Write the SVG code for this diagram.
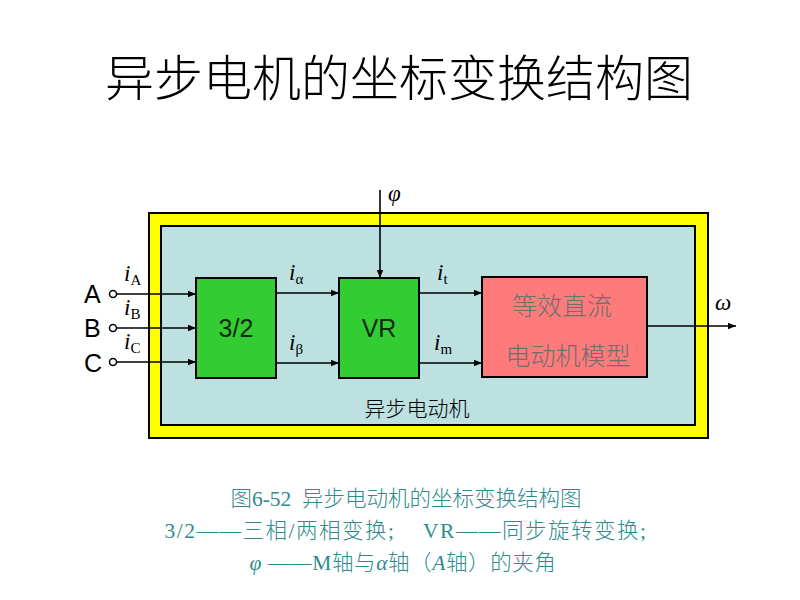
<svg xmlns="http://www.w3.org/2000/svg" width="800" height="600" viewBox="0 0 800 600">
<defs>
<marker id="ah" viewBox="0 0 10 10" refX="10" refY="5" markerWidth="8" markerHeight="8" markerUnits="userSpaceOnUse" orient="auto">
<path d="M0,1 L10,5 L0,9 Z" fill="#000"/>
</marker>
<style>
.ln{stroke:#000;stroke-width:1.6;fill:none}
.blk{stroke:#000;stroke-width:2}
.iv{font-family:"Liberation Serif",serif;font-style:italic;font-size:23px;fill:#000}
.sub{font-family:"Liberation Serif",serif;font-style:normal;font-size:15px}
.abc{font-family:"Liberation Sans",sans-serif;font-size:25px;fill:#000}
.bt{font-family:"Liberation Sans","Noto Sans",sans-serif;font-size:25px;fill:#0d2a0d;text-anchor:middle}
.cjk{font-family:"Noto Sans CJK SC",sans-serif}
.cap{font-family:"Liberation Serif","Noto Sans CJK SC",serif;font-size:21.5px;fill:#2e8b8b;font-weight:300}
</style>
</defs>
<rect width="800" height="600" fill="#fff"/>
<text x="399" y="96" class="cjk" font-size="49" font-weight="300" text-anchor="middle" fill="#000">异步电机的坐标变换结构图</text>

<g id="motor">
<rect x="149" y="213" width="559" height="225" fill="#ffff00" stroke="#000" stroke-width="2"/>
<rect x="161" y="226" width="534" height="199" fill="#bde0e1" stroke="#000" stroke-width="2"/>
<text x="417" y="416" class="cjk" font-size="21" font-weight="300" text-anchor="middle" fill="#000">异步电动机</text>
</g>

<g id="inputs">
<text x="84" y="303" class="abc">A</text>
<text x="84" y="337" class="abc">B</text>
<text x="84" y="372" class="abc">C</text>
<circle cx="113" cy="294" r="3.5" fill="#fff" stroke="#000" stroke-width="1.5"/>
<circle cx="113" cy="328" r="3.5" fill="#fff" stroke="#000" stroke-width="1.5"/>
<circle cx="113" cy="362" r="3.5" fill="#fff" stroke="#000" stroke-width="1.5"/>
<text x="124" y="281" class="iv">i<tspan class="sub" dy="4">A</tspan></text>
<text x="124" y="315" class="iv">i<tspan class="sub" dy="4">B</tspan></text>
<text x="124" y="349" class="iv">i<tspan class="sub" dy="4">C</tspan></text>
</g>

<g id="b32">
<rect x="196" y="278" width="80" height="100" fill="#33cc33" class="blk"/>
<text x="236" y="337" class="bt">3/2</text>
</g>
<g id="vr">
<rect x="339" y="278" width="80" height="100" fill="#33cc33" class="blk"/>
<text x="379" y="337" class="bt">VR</text>
</g>
<g id="dc">
<rect x="482" y="277" width="165" height="100" fill="#ff7b7b" class="blk"/>
<text x="562" y="315" class="cjk" font-size="25" font-weight="300" text-anchor="middle" fill="#6e6e6e">等效直流</text>
<text x="568" y="365" class="cjk" font-size="25" font-weight="300" text-anchor="middle" fill="#6e6e6e">电动机模型</text>
</g>

<g id="connectors">
<line x1="117" y1="294" x2="196" y2="294" class="ln" marker-end="url(#ah)"/>
<line x1="117" y1="328" x2="196" y2="328" class="ln" marker-end="url(#ah)"/>
<line x1="117" y1="362" x2="196" y2="362" class="ln" marker-end="url(#ah)"/>
<line x1="276" y1="293" x2="339" y2="293" class="ln" marker-end="url(#ah)"/>
<line x1="276" y1="363" x2="339" y2="363" class="ln" marker-end="url(#ah)"/>
<line x1="419" y1="293" x2="482" y2="293" class="ln" marker-end="url(#ah)"/>
<line x1="419" y1="363" x2="482" y2="363" class="ln" marker-end="url(#ah)"/>
<line x1="380" y1="190" x2="380" y2="278" class="ln" marker-end="url(#ah)"/>
<line x1="647" y1="326" x2="736" y2="326" class="ln" marker-end="url(#ah)"/>
</g>

<g id="labels">
<text x="388" y="201" class="iv">φ</text>
<text x="289" y="280" class="iv">i<tspan class="sub" dy="4">α</tspan></text>
<text x="289" y="350" class="iv">i<tspan class="sub" dy="4">β</tspan></text>
<text x="437" y="280" class="iv">i<tspan class="sub" dy="4">t</tspan></text>
<text x="434" y="350" class="iv">i<tspan class="sub" dy="4">m</tspan></text>
<text x="715" y="310" class="iv">ω</text>
</g>

<g id="caption">
<text x="406" y="506" class="cap" text-anchor="middle" xml:space="preserve">图6-52  异步电动机的坐标变换结构图</text>
<text x="406" y="538" class="cap" text-anchor="middle" letter-spacing="1.5" xml:space="preserve">3/2——三相/两相变换;    VR——同步旋转变换;</text>
<text x="403" y="570" class="cap" text-anchor="middle" letter-spacing="0.6"><tspan font-style="italic">φ</tspan> ——M轴与<tspan font-style="italic">α</tspan>轴（<tspan font-style="italic">A</tspan>轴）的夹角</text>
</g>
</svg>
